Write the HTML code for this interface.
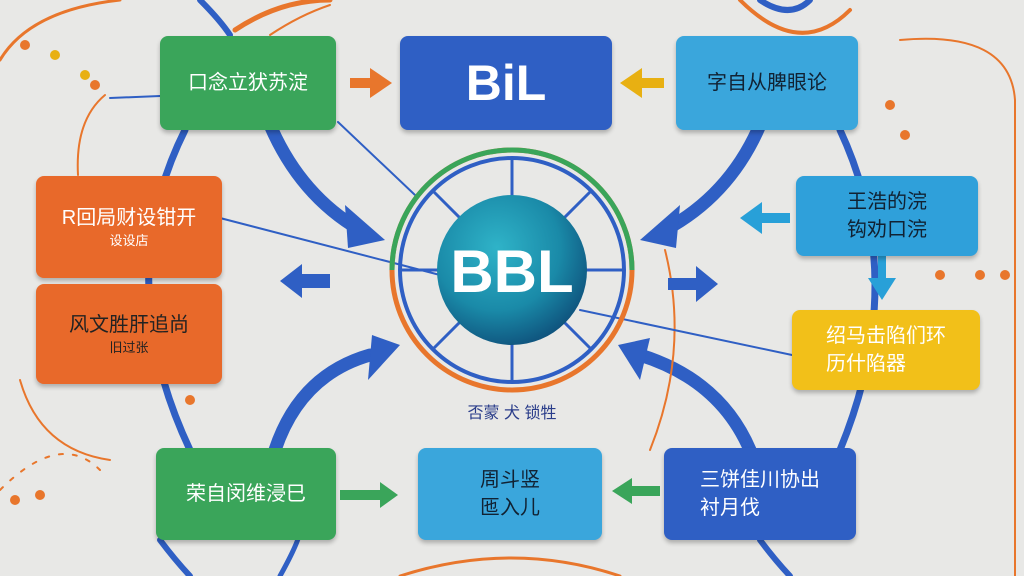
<!DOCTYPE html>
<html><head><meta charset="utf-8"><style>
body{margin:0;width:1024px;height:576px;overflow:hidden;background:#e8e8e6;font-family:"Liberation Sans","Noto Sans CJK SC",sans-serif}
svg{position:absolute;left:0;top:0}
.b{position:absolute;border-radius:8px;display:flex;flex-direction:column;align-items:center;justify-content:center;color:#fff;font-size:20px;line-height:1.4;box-shadow:0 3px 4px rgba(0,0,0,.25)}
.s{font-size:13px}
</style></head><body>
<svg width="1024" height="576">
<defs><radialGradient id="g" cx="40%" cy="35%" r="70%"><stop offset="0" stop-color="#2fb3c8"/><stop offset="0.6" stop-color="#1a8aa8"/><stop offset="1" stop-color="#0e4f7a"/></radialGradient></defs>
<g fill="none" stroke-linecap="round">
<path d="M200 0 Q220 20 230 35" stroke="#2f5fc4" stroke-width="6"/>
<path d="M760 0 Q790 20 810 0" stroke="#2f5fc4" stroke-width="6"/>
<path d="M185 130 Q110 280 190 450" stroke="#2f5fc4" stroke-width="7"/>
<path d="M840 130 Q910 280 840 450" stroke="#2f5fc4" stroke-width="7"/>
<path d="M160 540 Q175 560 190 576" stroke="#2f5fc4" stroke-width="6"/>
<path d="M760 540 Q775 560 790 576" stroke="#2f5fc4" stroke-width="6"/>
<path d="M280 576 Q300 540 300 530" stroke="#2f5fc4" stroke-width="5"/>
<path d="M270 125 Q300 195 360 230" stroke="#2f5fc4" stroke-width="13"/>
<path d="M760 125 Q730 195 665 230" stroke="#2f5fc4" stroke-width="13"/>
<path d="M275 450 Q300 375 370 355" stroke="#2f5fc4" stroke-width="13"/>
<path d="M750 450 Q720 380 640 355" stroke="#2f5fc4" stroke-width="13"/>
<path d="M0 60 Q30 10 120 0" stroke="#e8762c" stroke-width="3"/>
<path d="M235 30 Q280 0 330 0" stroke="#e8762c" stroke-width="5"/>
<path d="M270 35 Q300 15 330 5" stroke="#e8762c" stroke-width="2"/>
<path d="M740 0 Q800 60 850 10" stroke="#e8762c" stroke-width="4"/>
<path d="M900 40 Q1010 30 1015 100 L1015 576" stroke="#e8762c" stroke-width="2"/>
<path d="M105 95 Q75 120 78 175" stroke="#e8762c" stroke-width="2"/>
<path d="M0 490 Q60 430 100 470" stroke="#e8762c" stroke-width="2" stroke-dasharray="4 10"/>
<path d="M20 380 Q40 450 110 460" stroke="#e8762c" stroke-width="2"/>
<path d="M400 576 Q512 540 620 576" stroke="#e8762c" stroke-width="3"/>
<path d="M665 250 Q690 350 650 450" stroke="#e8762c" stroke-width="2"/>
<path d="M110 98 L160 96" stroke="#2f5fc4" stroke-width="2"/>
<path d="M220 218 L440 275" stroke="#2f5fc4" stroke-width="2"/>
<path d="M580 310 L792 355" stroke="#2f5fc4" stroke-width="2"/>
<path d="M338 122 L415 195" stroke="#2f5fc4" stroke-width="2"/>
</g>
<g fill="#2f5fc4">
<polygon points="345,205 385,240 348,248"/>
<polygon points="680,205 640,240 676,248"/>
<polygon points="372,335 400,345 368,380"/>
<polygon points="618,345 650,338 640,380"/>
</g>
<g fill="#e8762c"><circle cx="25" cy="45" r="5"/><circle cx="95" cy="85" r="5"/><circle cx="980" cy="275" r="5"/><circle cx="1005" cy="275" r="5"/><circle cx="890" cy="105" r="5"/><circle cx="905" cy="135" r="5"/><circle cx="940" cy="275" r="5"/><circle cx="15" cy="500" r="5"/><circle cx="40" cy="495" r="5"/><circle cx="190" cy="400" r="5"/></g>
<g fill="#e8b012"><circle cx="55" cy="55" r="5"/><circle cx="85" cy="75" r="5"/></g>
<circle cx="512" cy="270" r="120" fill="none" stroke="#e8762c" stroke-width="5"/>
<path d="M392 270 A120 120 0 0 1 632 270" fill="none" stroke="#3aa55a" stroke-width="5"/>
<circle cx="512" cy="270" r="112" fill="none" stroke="#2f5fc4" stroke-width="4"/>
<g stroke="#2f5fc4" stroke-width="3"><line x1="512" y1="158" x2="512" y2="382"/><line x1="400" y1="270" x2="624" y2="270"/><line x1="433" y1="191" x2="591" y2="349"/><line x1="591" y1="191" x2="433" y2="349"/></g>
<circle cx="512" cy="270" r="75" fill="url(#g)"/>
<text x="512" y="292" text-anchor="middle" font-size="60" font-weight="bold" fill="#fff" font-family="Liberation Sans">BBL</text>
<text x="512" y="418" text-anchor="middle" font-size="16" fill="#2a3d8a">否蒙 犬 锁牲</text>
<g fill="#e8762c"><rect x="350" y="78" width="22" height="10"/><polygon points="370,68 392,83 370,98"/></g>
<g fill="#e8b012"><rect x="640" y="78" width="24" height="10"/><polygon points="642,68 620,83 642,98"/></g>
<g fill="#2f5fc4"><rect x="300" y="274" width="30" height="14"/><polygon points="302,264 280,281 302,298"/><rect x="668" y="278" width="30" height="12"/><polygon points="696,266 718,284 696,302"/></g>
<g fill="#28a0d8"><rect x="760" y="213" width="30" height="10"/><polygon points="762,202 740,218 762,234"/><rect x="878" y="255" width="8" height="25"/><polygon points="868,278 896,278 882,300"/></g>
<g fill="#3aa55a"><rect x="340" y="490" width="42" height="10"/><polygon points="380,482 398,495 380,508"/><rect x="630" y="486" width="30" height="10"/><polygon points="632,478 612,491 632,504"/></g>
</svg>
<div class="b" style="left:160px;top:36px;width:176px;height:94px;background:#3aa55a">口念立犾苏淀</div>
<div class="b" style="left:400px;top:36px;width:212px;height:94px;background:#2f5fc4;font-size:50px;font-weight:bold;font-family:'Liberation Sans',sans-serif">BiL</div>
<div class="b" style="left:676px;top:36px;width:182px;height:94px;background:#3aa6dc;color:#123">字自从脾眼论</div>
<div class="b" style="left:36px;top:176px;width:186px;height:102px;background:#e8692a">R回局财设钳开<span class="s">设设店</span></div>
<div class="b" style="left:36px;top:284px;width:186px;height:100px;background:#e8692a;color:#222">风文胜肝追尚<span class="s">旧过张</span></div>
<div class="b" style="left:796px;top:176px;width:182px;height:80px;background:#2fa0da;color:#123">王浩的浣<br>钩劝口浣</div>
<div class="b" style="left:792px;top:310px;width:188px;height:80px;background:#f2c019">绍马击陷们环<br>历什陷器</div>
<div class="b" style="left:156px;top:448px;width:180px;height:92px;background:#3aa55a">荣自闵维浸巳</div>
<div class="b" style="left:418px;top:448px;width:184px;height:92px;background:#3aa6dc;color:#123">周斗竖<br>匜入儿</div>
<div class="b" style="left:664px;top:448px;width:192px;height:92px;background:#2f5fc4">三饼佳川协出<br>衬月伐</div>
</body></html>
